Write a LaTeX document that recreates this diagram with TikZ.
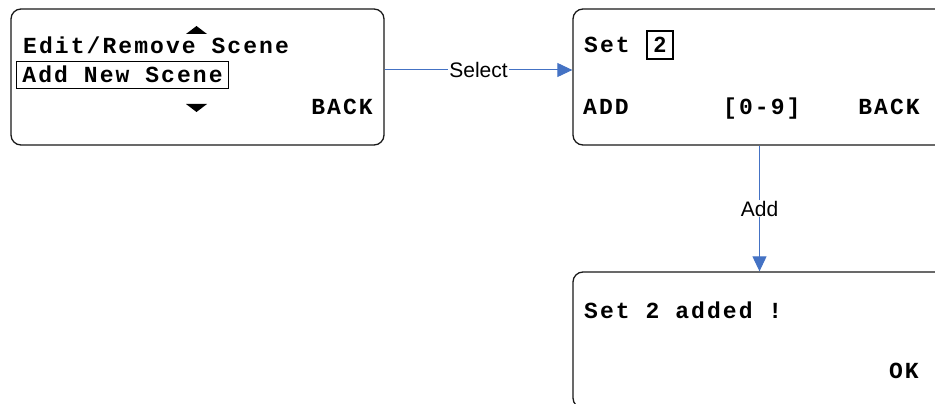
\documentclass[tikz,border=0pt]{standalone}
\usepackage{fontspec}
\usetikzlibrary{arrows.meta}
\newfontfamily\lcdfont{Liberation Mono}[LetterSpace=9]
\newfontfamily\labelfont{Liberation Sans}
\definecolor{flowblue}{RGB}{68,114,196}
\begin{document}
\begin{tikzpicture}[x=1pt,y=-1pt,
    screen/.style={draw=black!90,line width=1.3pt,rounded corners=10pt,minimum width=373pt,minimum height=136pt,inner sep=0pt},
    lcd/.style={inner sep=0pt,font=\lcdfont\bfseries\fontsize{23}{25}\selectfont},
    flow/.style={draw=flowblue,line width=1pt,-{Triangle[length=15pt,width=14pt]},flowblue},
    flowlabel/.style={fill=white,inner sep=1pt,text=black,font=\labelfont\fontsize{21}{24}\selectfont}]
    \useasboundingbox (0,0) rectangle (935,404);
    \clip (0,0) rectangle (935,404);
    % screens
    \node[screen] (menu) at (197.5,77) {};
    \node[screen] (setscr) at (759.5,77) {};
    \node[screen] (added) at (759.5,340) {};
    % menu screen
    \node[lcd,anchor=base west] (edit) at (23,54) {Edit/Remove Scene};
    \node[lcd,anchor=base west,draw,line width=1pt,inner xsep=6pt,text height=21pt,text depth=6pt] (addnew) at (16,83) {Add New Scene};
    \node[lcd,anchor=base east] (menuback) at (373,114) {BACK};
    \fill (186,34)--(207,34)--(196.5,26)--cycle;
    \fill (186,104)--(207,104)--(196.5,112)--cycle;
    % set screen
    \node[lcd,anchor=base west] (settxt) at (584,53) {Set};
    \node[draw,line width=1.2pt,minimum width=26pt,minimum height=28pt,inner sep=0pt,font=\labelfont\bfseries\fontsize{22}{24}\selectfont] (setval) at (660,45) {2};
    \node[lcd,anchor=base west] (setadd) at (583,114) {ADD};
    \node[lcd,anchor=base west] (setrange) at (723,114) {[0-9]};
    \node[lcd,anchor=base east] (setback) at (920,114) {BACK};
    % added screen
    \node[lcd,anchor=base west] (addedtxt) at (584,318) {Set 2 added !};
    \node[lcd,anchor=base east] (addedok) at (919,378) {OK};
    % transitions
    \draw[flow] ([yshift=7pt]menu.east) -- node[flowlabel]{Select} ([yshift=7pt]setscr.west);
    \draw[flow] (setscr.south) -- node[flowlabel]{Add} (added.north);
\end{tikzpicture}
\end{document}
